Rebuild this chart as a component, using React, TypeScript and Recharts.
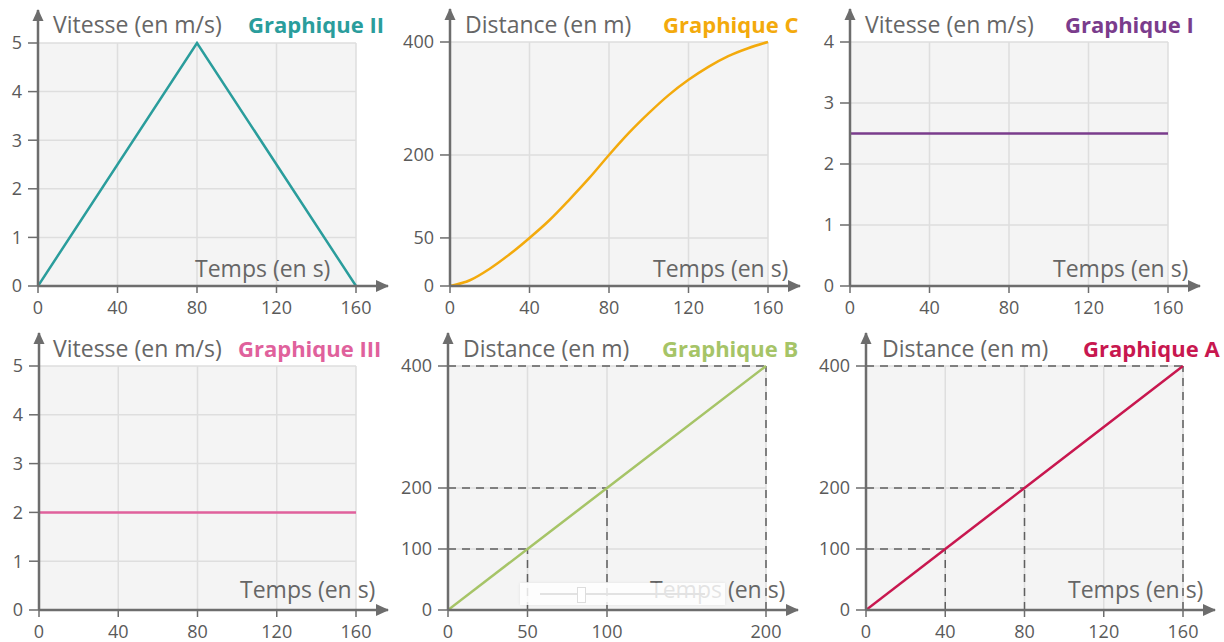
import React from "react";
import {
  LineChart, Line, XAxis, YAxis, ReferenceLine, ReferenceArea, ReferenceDot,
} from "recharts";

// tick labels
const timeTicks = [0, 40, 80, 120, 160];
const timeTicksB = [0, 50, 100, 200];
const speedTicks5 = [0, 1, 2, 3, 4, 5];
const speedTicks4 = [0, 1, 2, 3, 4];
const distTicks = [0, 100, 200, 400];
const distTicksC = [0, 50, 200, 400];

// Graphique II
const timeII = [0, 80, 160];
const speedII = [0, 5, 0];
// Graphique C
const timeC = [0, 10, 20, 30, 40, 50, 60, 70, 80, 90, 100, 110, 120, 130, 140, 150, 160];
const distC = [0, 6, 18, 33, 50, 82, 119, 158, 200, 239, 274, 306, 333, 356, 375, 389, 400];
// Graphique I
const timeI = [0, 160];
const speedI = [2.5, 2.5];
// Graphique III
const timeIII = [0, 160];
const speedIII = [2, 2];
// Graphique B
const timeB = [0, 50, 100, 200];
const distB = [0, 100, 200, 400];
// Graphique A
const timeA = [0, 40, 80, 160];
const distA = [0, 100, 200, 400];

// the C axis is not evenly spaced in the original drawing
const cTickPos = [0, 0.197, 0.537, 1];

const FONT = "'Open Sans', sans-serif";
const AXIS = "#6d6d6d";
const GRID = "#dedede";
const BG = "#f4f4f4";
const LABEL = "#5a5a5a";

type PanelProps = {
  top: number;
  ox: number; oy: number; xEnd: number; yEnd: number;
  xTicks: number[]; yTicks: number[]; yPos?: number[];
  t: number[]; v: number[];
  color: string; curve?: "linear" | "monotone";
  guides?: boolean;
};

const H = 321;

function Panel(p: PanelProps) {
  const left = p.ox - 60;
  const width = p.xEnd + 44 - left;
  const xMax = p.xTicks[p.xTicks.length - 1];
  const yMax = p.yTicks[p.yTicks.length - 1];
  const warp = (val: number) => {
    if (!p.yPos) return val;
    for (let i = 0; i < p.yTicks.length - 1; i++) {
      const a = p.yTicks[i], b = p.yTicks[i + 1];
      if (val <= b) return (p.yPos[i] + ((val - a) / (b - a)) * (p.yPos[i + 1] - p.yPos[i])) * yMax;
    }
    return val;
  };
  const yTickVals = p.yTicks.map(warp);
  const fmt = (val: number) => {
    const i = yTickVals.findIndex((y) => Math.abs(y - val) < 1e-6);
    return i >= 0 ? String(p.yTicks[i]) : "";
  };
  const xDom = xMax + (32 * xMax) / (p.xEnd - p.ox);
  const yDom = yMax + (33 * yMax) / (p.oy - p.yEnd);
  const data = p.t.map((t, i) => ({ t, v: warp(p.v[i]) }));
  const xAxisH = p.top + H - p.oy;
  const tick = { fontFamily: FONT, fontSize: 18, fill: LABEL };

  return (
    <div style={{ position: "absolute", left, top: p.top }}>
      <LineChart
        width={width}
        height={H}
        data={data}
        margin={{ left: 0, bottom: 0, top: p.yEnd - 33 - p.top, right: width - (p.xEnd + 32 - left) }}
      >
        <ReferenceArea x1={0} x2={xMax} y1={0} y2={yMax} fill={BG} fillOpacity={1} stroke="none" />
        {p.xTicks.filter((x) => x > 0).map((x) => (
          <ReferenceLine key={"vx" + x} segment={[{ x, y: 0 }, { x, y: yMax }]} stroke={GRID} strokeWidth={1.5} />
        ))}
        {yTickVals.filter((y) => y > 0).map((y) => (
          <ReferenceLine key={"hy" + y} segment={[{ x: 0, y }, { x: xMax, y }]} stroke={GRID} strokeWidth={1.5} />
        ))}
        {p.guides && data.filter((d) => d.t > 0).map((d) => (
          <ReferenceLine key={"gh" + d.t} segment={[{ x: 0, y: d.v }, { x: d.t, y: d.v }]} stroke="#5f5f5f" strokeWidth={1.5} strokeDasharray="8 6" />
        ))}
        {p.guides && data.filter((d) => d.t > 0).map((d) => (
          <ReferenceLine key={"gv" + d.t} segment={[{ x: d.t, y: 0 }, { x: d.t, y: d.v }]} stroke="#5f5f5f" strokeWidth={1.5} strokeDasharray="8 6" />
        ))}
        <XAxis
          dataKey="t" type="number" domain={[0, xDom]} allowDataOverflow
          ticks={p.xTicks} interval={0} height={xAxisH}
          axisLine={{ stroke: AXIS, strokeWidth: 2.5 }}
          tickLine={{ stroke: AXIS, strokeWidth: 1.5 }} tickSize={7} tickMargin={8}
          tick={tick}
        />
        <YAxis
          type="number" domain={[0, yDom]} allowDataOverflow
          ticks={yTickVals} interval={0} width={60} tickFormatter={fmt}
          axisLine={{ stroke: AXIS, strokeWidth: 2.5 }}
          tickLine={{ stroke: AXIS, strokeWidth: 1.5 }} tickSize={10} tickMargin={6}
          tick={tick}
        />
        <Line
          dataKey="v" type={p.curve ?? "linear"} stroke={p.color} strokeWidth={2.5}
          dot={false} activeDot={false} isAnimationActive={false}
        />
        <ReferenceDot
          x={xDom} y={0} ifOverflow="visible"
          shape={(s: any) => (
            <polygon points={`${s.cx + 1},${s.cy} ${s.cx - 12},${s.cy - 6} ${s.cx - 12},${s.cy + 6}`} fill={AXIS} />
          )}
        />
        <ReferenceDot
          x={0} y={yDom} ifOverflow="visible"
          shape={(s: any) => (
            <polygon points={`${s.cx},${s.cy - 1} ${s.cx - 5.5},${s.cy + 11} ${s.cx + 5.5},${s.cy + 11}`} fill={AXIS} />
          )}
        />
      </LineChart>
    </div>
  );
}

const titles = [
  { x: 53, y: 33, text: "Vitesse (en m/s)", bold: false, color: "#666" },
  { x: 248, y: 33, text: "Graphique II", bold: true, color: "#2a9d9c" },
  { x: 465, y: 33, text: "Distance (en m)", bold: false, color: "#666" },
  { x: 663, y: 33, text: "Graphique C", bold: true, color: "#f3aa0c" },
  { x: 865, y: 33, text: "Vitesse (en m/s)", bold: false, color: "#666" },
  { x: 1065, y: 33, text: "Graphique I", bold: true, color: "#7a3c8c" },
  { x: 53, y: 357, text: "Vitesse (en m/s)", bold: false, color: "#666" },
  { x: 238, y: 357, text: "Graphique III", bold: true, color: "#e0619c" },
  { x: 463, y: 357, text: "Distance (en m)", bold: false, color: "#666" },
  { x: 662, y: 357, text: "Graphique B", bold: true, color: "#a6c467" },
  { x: 882, y: 357, text: "Distance (en m)", bold: false, color: "#666" },
  { x: 1083, y: 357, text: "Graphique A", bold: true, color: "#c8174f" },
  { x: 195, y: 277, text: "Temps (en s)", bold: false, color: "#666" },
  { x: 653, y: 277, text: "Temps (en s)", bold: false, color: "#666" },
  { x: 1053, y: 277, text: "Temps (en s)", bold: false, color: "#666" },
  { x: 240, y: 598, text: "Temps (en s)", bold: false, color: "#666" },
  { x: 650, y: 598, text: "Temps (en s)", bold: false, color: "#666" },
  { x: 1068, y: 598, text: "Temps (en s)", bold: false, color: "#666" },
];

export default function App() {
  return (
    <div style={{ position: "relative", width: 1224, height: 642, background: "#fff", overflow: "hidden" }}>
      <style>{"body{margin:0}"}</style>
      <Panel top={0} ox={38} oy={286} xEnd={356} yEnd={43}
        xTicks={timeTicks} yTicks={speedTicks5} t={timeII} v={speedII} color="#2a9d9c" />
      <Panel top={0} ox={450} oy={286} xEnd={768} yEnd={42}
        xTicks={timeTicks} yTicks={distTicksC} yPos={cTickPos} t={timeC} v={distC} color="#f3aa0c" curve="monotone" />
      <Panel top={0} ox={850} oy={286} xEnd={1168} yEnd={42}
        xTicks={timeTicks} yTicks={speedTicks4} t={timeI} v={speedI} color="#7a3c8c" />
      <Panel top={321} ox={39} oy={610} xEnd={356} yEnd={366}
        xTicks={timeTicks} yTicks={speedTicks5} t={timeIII} v={speedIII} color="#e0619c" />
      <Panel top={321} ox={448} oy={610} xEnd={766} yEnd={366}
        xTicks={timeTicksB} yTicks={distTicks} t={timeB} v={distB} color="#a6c467" guides />
      <Panel top={321} ox={866} oy={610} xEnd={1183} yEnd={366}
        xTicks={timeTicks} yTicks={distTicks} t={timeA} v={distA} color="#c8174f" guides />
      <svg width={1224} height={642} style={{ position: "absolute", left: 0, top: 0, pointerEvents: "none" }}>
        {titles.map((d, i) => (
          <text key={i} x={d.x} y={d.y} fill={d.color} fontFamily={FONT} fontSize={d.bold ? 22 : 23}
            fontWeight={d.bold ? 700 : 400}>{d.text}</text>
        ))}
      </svg>
      {/* leftover video slider from the source screenshot */}
      <div style={{ position: "absolute", left: 520, top: 583, width: 205, height: 22, background: "rgba(255,255,255,0.82)", boxShadow: "0 0 3px rgba(0,0,0,0.08)" }}>
        <div style={{ position: "absolute", left: 20, right: 20, top: 10, height: 2, background: "#e2e2e2" }} />
        <div style={{ position: "absolute", left: 57, top: 4, width: 7, height: 14, background: "#fff", border: "1px solid #ddd" }} />
      </div>
    </div>
  );
}
